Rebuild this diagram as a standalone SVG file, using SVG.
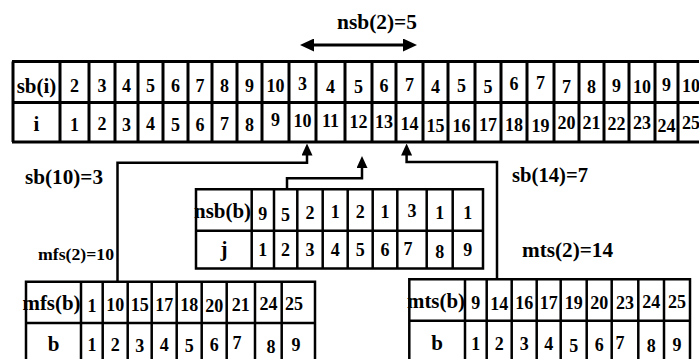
<svg xmlns="http://www.w3.org/2000/svg" width="699" height="359" viewBox="0 0 699 359">
<style>
.t{font-family:"Liberation Serif","Times New Roman",serif;font-weight:bold;fill:#000}
.n{font-size:18px;text-anchor:middle}
.h{font-size:21px}
.hc{font-size:21px;text-anchor:middle}
.grid{fill:none;stroke:#000;stroke-width:3}
.grid2{fill:none;stroke:#000;stroke-width:2.5}
.con{fill:none;stroke:#000;stroke-width:2.5}
</style>
<defs>
<marker id="ah" markerUnits="userSpaceOnUse" markerWidth="12" markerHeight="11" refX="4" refY="5.5" orient="auto"><path d="M0,0 L12,5.5 L0,11 z" fill="#000"/></marker>
<marker id="ah2" markerUnits="userSpaceOnUse" markerWidth="14" markerHeight="13" refX="4" refY="6.5" orient="auto-start-reverse"><path d="M0,0 L14,6.5 L0,13 z" fill="#000"/></marker>
</defs>
<rect width="699" height="359" fill="#fff"/>

<g id="span-arrow">
<text class="t" x="337" y="29" font-size="21" textLength="80" lengthAdjust="spacingAndGlyphs">nsb(2)=5</text>
<path d="M310,45 H407" stroke="#000" stroke-width="3" fill="none" marker-start="url(#ah2)" marker-end="url(#ah2)"/>
</g>

<g id="sb-table">
<path class="grid" d="M12,61.5 H699 M13,102.5 H699 M12,142 H699 M13,61.5 V142 M60,61.5 V142 M89,61.5 V142 M115,61.5 V142 M138,61.5 V142 M163,61.5 V142 M188,61.5 V142 M212,61.5 V142 M237,61.5 V142 M262,61.5 V142 M289,61.5 V142 M316,61.5 V142 M345,61.5 V142 M372,61.5 V142 M396,61.5 V142 M423,61.5 V142 M448,61.5 V142 M475,61.5 V142 M501,61.5 V142 M527,61.5 V142 M554,61.5 V142 M579,61.5 V142 M604,61.5 V142 M629,61.5 V142 M655,61.5 V142 M678,61.5 V142"/>
<text class="t hc" x="36.5" y="93">sb(i)</text>
<text class="t hc" x="36.5" y="131">i</text>
<g class="t n">
<text x="74.5" y="92">2</text><text x="102" y="92">3</text><text x="126.5" y="92">4</text><text x="150.5" y="92">5</text><text x="175.5" y="92">6</text><text x="200" y="92">7</text><text x="224.5" y="92">8</text><text x="249.5" y="92">9</text><text x="275.5" y="92">10</text><text x="302.5" y="90">3</text><text x="330.5" y="93">4</text><text x="358.5" y="93">5</text><text x="384" y="92">6</text><text x="409.5" y="91">7</text><text x="435.5" y="93">4</text><text x="461.5" y="92">5</text><text x="488" y="93">5</text><text x="514" y="90">6</text><text x="540.5" y="89">7</text><text x="566.5" y="93">7</text><text x="591.5" y="93">8</text><text x="616.5" y="92">9</text><text x="642" y="93">10</text><text x="666.5" y="91">9</text><text x="691" y="92">10</text>
</g>
<g class="t n">
<text x="74.5" y="131">1</text><text x="102" y="130">2</text><text x="126.5" y="131">3</text><text x="150.5" y="130">4</text><text x="175.5" y="131">5</text><text x="200" y="131">6</text><text x="224.5" y="130">7</text><text x="249.5" y="131">8</text><text x="275.5" y="126">9</text><text x="302.5" y="127">10</text><text x="330.5" y="127">11</text><text x="358.5" y="128">12</text><text x="384" y="128">13</text><text x="409.5" y="130">14</text><text x="435.5" y="132">15</text><text x="461.5" y="132">16</text><text x="488" y="131">17</text><text x="514" y="131">18</text><text x="540.5" y="132">19</text><text x="566.5" y="129">20</text><text x="591.5" y="129">21</text><text x="616.5" y="130">22</text><text x="642" y="129">23</text><text x="666.5" y="132">24</text><text x="691" y="129">25</text>
</g>
</g>

<g id="nsb-table">
<text class="t h" x="194" y="218" textLength="57" lengthAdjust="spacingAndGlyphs">nsb(b)</text>
<path class="grid2" d="M196,189.3 H483 V268.5 H196 Z M196,230.7 H483 M251.7,189.3 V268.5 M274,189.3 V268.5 M297.3,189.3 V268.5 M322.7,189.3 V268.5 M347.7,189.3 V268.5 M372.7,189.3 V268.5 M397.3,189.3 V268.5 M426.7,189.3 V268.5 M452.7,189.3 V268.5"/>
<text class="t hc" x="224" y="256">j</text>
<g class="t n">
<text x="262.8" y="220">9</text><text x="285.6" y="221">5</text><text x="310" y="219">2</text><text x="335.2" y="218">1</text><text x="360.2" y="218">2</text><text x="385" y="218">1</text><text x="412" y="217">3</text><text x="439.7" y="219">1</text><text x="467.8" y="219">1</text>
<text x="262.8" y="256">1</text><text x="285.6" y="256">2</text><text x="310" y="256">3</text><text x="335.2" y="256">4</text><text x="360.2" y="256">5</text><text x="385" y="256">6</text><text x="408" y="255">7</text><text x="439.7" y="258">8</text><text x="467.8" y="256">9</text>
</g>
</g>

<g id="mfs-table">
<text class="t h" x="22.5" y="310" textLength="58" lengthAdjust="spacingAndGlyphs">mfs(b)</text>
<path class="grid2" d="M26,365 V281.7 H315 V365 M26,323 H315 M81,281.7 V365 M102.7,281.7 V365 M127.7,281.7 V365 M151.7,281.7 V365 M176.7,281.7 V365 M201.7,281.7 V365 M226.7,281.7 V365 M255,281.7 V365 M281.7,281.7 V365"/>
<text class="t hc" x="53.5" y="351">b</text>
<g class="t n">
<text x="92" y="312">1</text><text x="115.2" y="311">10</text><text x="139.7" y="311">15</text><text x="164.2" y="311">17</text><text x="189.2" y="311">18</text><text x="214.2" y="312">20</text><text x="240.8" y="311">21</text><text x="268.4" y="310">24</text><text x="294" y="310">25</text>
<text x="92" y="351">1</text><text x="115.2" y="351">2</text><text x="139.7" y="352">3</text><text x="164.2" y="351">4</text><text x="189.2" y="352">5</text><text x="214.2" y="351">6</text><text x="237" y="349">7</text><text x="271" y="353">8</text><text x="296" y="351">9</text>
</g>
</g>

<g id="mts-table">
<text class="t h" x="407" y="308" textLength="58" lengthAdjust="spacingAndGlyphs">mts(b)</text>
<path class="grid2" d="M409.3,365 V279.3 H690 V365 M409.3,320.7 H690 M465,279.3 V365 M486.7,279.3 V365 M511.7,279.3 V365 M536.7,279.3 V365 M560.7,279.3 V365 M586.7,279.3 V365 M611.7,279.3 V365 M638.3,279.3 V365 M664,279.3 V365"/>
<text class="t hc" x="437" y="350">b</text>
<g class="t n">
<text x="475.8" y="309">9</text><text x="499.2" y="310">14</text><text x="524.2" y="309">16</text><text x="548.7" y="309">17</text><text x="573.7" y="309">19</text><text x="599.2" y="309">20</text><text x="625" y="309">23</text><text x="651.2" y="308">24</text><text x="677" y="308">25</text>
<text x="475.8" y="350">1</text><text x="499.2" y="350">2</text><text x="524.2" y="350">3</text><text x="548.7" y="350">4</text><text x="573.7" y="352">5</text><text x="599.2" y="351">6</text><text x="620" y="349">7</text><text x="651.2" y="352">8</text><text x="677" y="351">9</text>
</g>
</g>

<g id="connectors">
<path class="con" d="M117.5,281.7 V162.7 H307 V151.5" marker-end="url(#ah)"/>
<path class="con" d="M287,189.3 V178.3 H362 V164" marker-end="url(#ah)"/>
<path class="con" d="M497,279.3 V162 H406.6 V151.5" marker-end="url(#ah)"/>
</g>

<g id="labels">
<text class="t" x="25" y="184" font-size="21" textLength="78" lengthAdjust="spacingAndGlyphs">sb(10)=3</text>
<text class="t" x="512" y="182" font-size="21" textLength="76" lengthAdjust="spacingAndGlyphs">sb(14)=7</text>
<text class="t" x="38" y="260" font-size="16" textLength="76" lengthAdjust="spacingAndGlyphs">mfs(2)=10</text>
<text class="t" x="522" y="257" font-size="20" textLength="91" lengthAdjust="spacingAndGlyphs">mts(2)=14</text>
</g>
</svg>
